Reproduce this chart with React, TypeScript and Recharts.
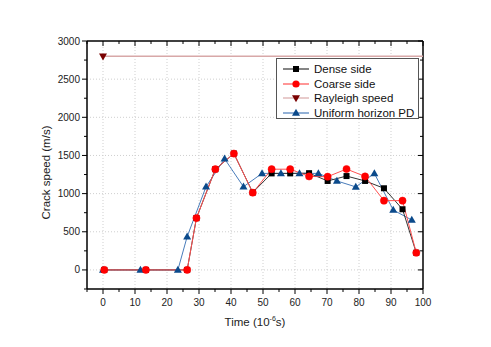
import { LineChart, Line, XAxis, YAxis, CartesianGrid, ReferenceLine, Label } from "recharts";

// time in 10^-6 s, speed in m/s
const denseTime = [0.4, 13.4, 26.3, 29.2, 35.1, 40.9, 46.8, 52.7, 58.5, 64.4, 70.2, 76.1, 81.9, 87.8, 93.6, 97.9];
const denseSpeed = [0, 0, 0, 680, 1320, 1525, 1015, 1265, 1265, 1268, 1166, 1230, 1166, 1070, 795, 225];

const coarseTime = [0.4, 13.4, 26.3, 29.2, 35.1, 40.9, 46.8, 52.7, 58.5, 64.4, 70.2, 76.1, 81.9, 87.8, 93.6, 97.9];
const coarseSpeed = [0, 0, 0, 680, 1320, 1525, 1012, 1320, 1320, 1225, 1222, 1322, 1225, 908, 908, 225];

const rayleighTime = [0, 100];
const rayleighSpeed = [2800, 2800];

const uniformTime = [0, 11.7, 23.4, 26.3, 32.2, 38.0, 43.9, 49.7, 55.6, 61.4, 67.3, 73.1, 79.0, 84.8, 90.7, 96.5];
const uniformSpeed = [0, 0, 0, 436, 1090, 1456, 1090, 1265, 1265, 1265, 1265, 1166, 1088, 1265, 785, 654];

const xTicks = [-5, 0, 5, 10, 15, 20, 25, 30, 35, 40, 45, 50, 55, 60, 65, 70, 75, 80, 85, 90, 95, 100];
const yTicks = [-250, 0, 250, 500, 750, 1000, 1250, 1500, 1750, 2000, 2250, 2500, 2750, 3000];
const xGrid = [0, 10, 20, 30, 40, 50, 60, 70, 80, 90];
const yGrid = [0, 500, 1000, 1500, 2000, 2500];

const FONT = '"Liberation Sans", Arial, sans-serif';
const PLOT_TOP = 41;
const PLOT_RIGHT = 423;

const toPoints = (t: number[], v: number[]) => t.map((time, i) => ({ time, speed: v[i] }));

const XTick = (props: any) => {
  const { x, y, payload } = props;
  const major = payload.value % 10 === 0;
  const len = major ? 5 : 3;
  return (
    <g>
      <line x1={x} x2={x} y1={y} y2={y + len} stroke="#000" />
      <line x1={x} x2={x} y1={PLOT_TOP} y2={PLOT_TOP + len} stroke="#000" />
      {major && (
        <text x={x} y={y + 17} textAnchor="middle" fontSize={10} fontFamily={FONT} fill="#222">
          {payload.value}
        </text>
      )}
    </g>
  );
};

const YTick = (props: any) => {
  const { x, y, payload } = props;
  const major = payload.value % 500 === 0;
  const len = major ? 5 : 3;
  return (
    <g>
      <line x1={x - len} x2={x} y1={y} y2={y} stroke="#000" />
      <line x1={PLOT_RIGHT - len} x2={PLOT_RIGHT} y1={y} y2={y} stroke="#000" />
      {major && (
        <text x={x - 7} y={y + 3.5} textAnchor="end" fontSize={10} fontFamily={FONT} fill="#222">
          {payload.value}
        </text>
      )}
    </g>
  );
};

const Square = (p: any) => (
  <rect key={p.key ?? p.index} x={p.cx - 3} y={p.cy - 3} width={6} height={6} fill="#000" />
);

const Triangle = (p: any) => (
  <path
    key={p.key ?? p.index}
    d={`M${p.cx},${p.cy - 4.2} L${p.cx + 4},${p.cy + 2.8} L${p.cx - 4},${p.cy + 2.8} Z`}
    fill="#0b4a8b"
  />
);

const DownTriangle = (p: any) =>
  p.index === 0 ? (
    <path
      key={p.key ?? p.index}
      d={`M${p.cx},${p.cy + 4.2} L${p.cx + 4},${p.cy - 2.8} L${p.cx - 4},${p.cy - 2.8} Z`}
      fill="#7a0000"
    />
  ) : (
    <g key={p.key ?? p.index} />
  );

const legendItems = [
  { name: "Dense side", line: "#333", kind: "square" },
  { name: "Coarse side", line: "#ff5050", kind: "circle" },
  { name: "Rayleigh speed", line: "#d8a8a8", kind: "down" },
  { name: "Uniform horizon PD", line: "#4a7dbb", kind: "up" },
];

const LegendMarker = ({ kind }: { kind: string }) => {
  if (kind === "square") return <rect x={10} y={3} width={6} height={6} fill="#000" />;
  if (kind === "circle") return <circle cx={13} cy={6} r={3.6} fill="#ff0000" />;
  if (kind === "down") return <path d="M13,10.2 L17,3.2 L9,3.2 Z" fill="#7a0000" />;
  return <path d="M13,1.8 L17,8.8 L9,8.8 Z" fill="#0b4a8b" />;
};

export default function App() {
  return (
    <div style={{ position: "absolute", left: 0, top: 0, width: 491, height: 347, background: "#fff" }}>
      <LineChart width={491} height={347} margin={{ top: PLOT_TOP, right: 491 - PLOT_RIGHT, bottom: 28, left: 37 }}>
        <CartesianGrid
          horizontalValues={yGrid}
          verticalValues={xGrid}
          stroke="#cfcfcf"
          strokeDasharray="1 2"
        />
        <XAxis
          dataKey="time"
          type="number"
          domain={[-5, 100]}
          ticks={xTicks}
          interval={0}
          allowDataOverflow
          tickSize={0}
          tickMargin={0}
          tickLine={false}
          height={30}
          axisLine={{ stroke: "#000", strokeWidth: 1.5 }}
          tick={(p: any) => <XTick {...p} />}
        >
          <Label
            content={() => (
              <text x={255} y={326} textAnchor="middle" fontSize={11.5} fontFamily={FONT} fill="#222">
                Time (10
                <tspan fontSize={7} dy={-5}>-6</tspan>
                <tspan dy={5}>s)</tspan>
              </text>
            )}
          />
        </XAxis>
        <YAxis
          dataKey="speed"
          type="number"
          domain={[-250, 3000]}
          ticks={yTicks}
          interval={0}
          allowDataOverflow
          tickSize={0}
          tickMargin={0}
          tickLine={false}
          width={50}
          axisLine={{ stroke: "#000", strokeWidth: 1.5 }}
          tick={(p: any) => <YTick {...p} />}
        >
          <Label
            content={() => (
              <text
                x={46}
                y={172.5}
                transform="rotate(-90 46 172.5)"
                textAnchor="middle"
                dominantBaseline="central"
                fontSize={11.5}
                fontFamily={FONT}
                fill="#222"
              >
                Crack speed (m/s)
              </text>
            )}
          />
        </YAxis>
        <ReferenceLine y={3000} stroke="#000" strokeWidth={1.5} />
        <ReferenceLine x={100} stroke="#000" strokeWidth={1.5} />
        <Line
          data={toPoints(rayleighTime, rayleighSpeed)}
          dataKey="speed"
          stroke="#d8a8a8"
          strokeWidth={1.6}
          dot={DownTriangle}
          isAnimationActive={false}
        />
        <Line
          data={toPoints(uniformTime, uniformSpeed)}
          dataKey="speed"
          stroke="#4a7dbb"
          strokeWidth={1}
          dot={Triangle}
          isAnimationActive={false}
        />
        <Line
          data={toPoints(denseTime, denseSpeed)}
          dataKey="speed"
          stroke="#333"
          strokeWidth={1}
          dot={Square}
          isAnimationActive={false}
        />
        <Line
          data={toPoints(coarseTime, coarseSpeed)}
          dataKey="speed"
          stroke="#ff5050"
          strokeWidth={1}
          dot={{ r: 3.6, fill: "#ff0000", stroke: "#ff0000", strokeWidth: 0.5 }}
          isAnimationActive={false}
        />
      </LineChart>
      <div
        style={{
          position: "absolute",
          left: 276,
          top: 58,
          width: 143,
          height: 61,
          boxSizing: "border-box",
          border: "1px solid #555",
          background: "#fff",
          fontFamily: FONT,
          fontSize: 11.5,
          color: "#111",
        }}
      >
        {legendItems.map((item, i) => (
          <div
            key={item.name}
            style={{ position: "absolute", left: 6, top: 3 + i * 14.5, height: 14, display: "flex", alignItems: "center", whiteSpace: "nowrap" }}
          >
            <svg width={27} height={12} style={{ marginRight: 4 }}>
              <line x1={0} x2={26} y1={6} y2={6} stroke={item.line} strokeWidth={1.2} />
              <LegendMarker kind={item.kind} />
            </svg>
            <span>{item.name}</span>
          </div>
        ))}
      </div>
    </div>
  );
}
